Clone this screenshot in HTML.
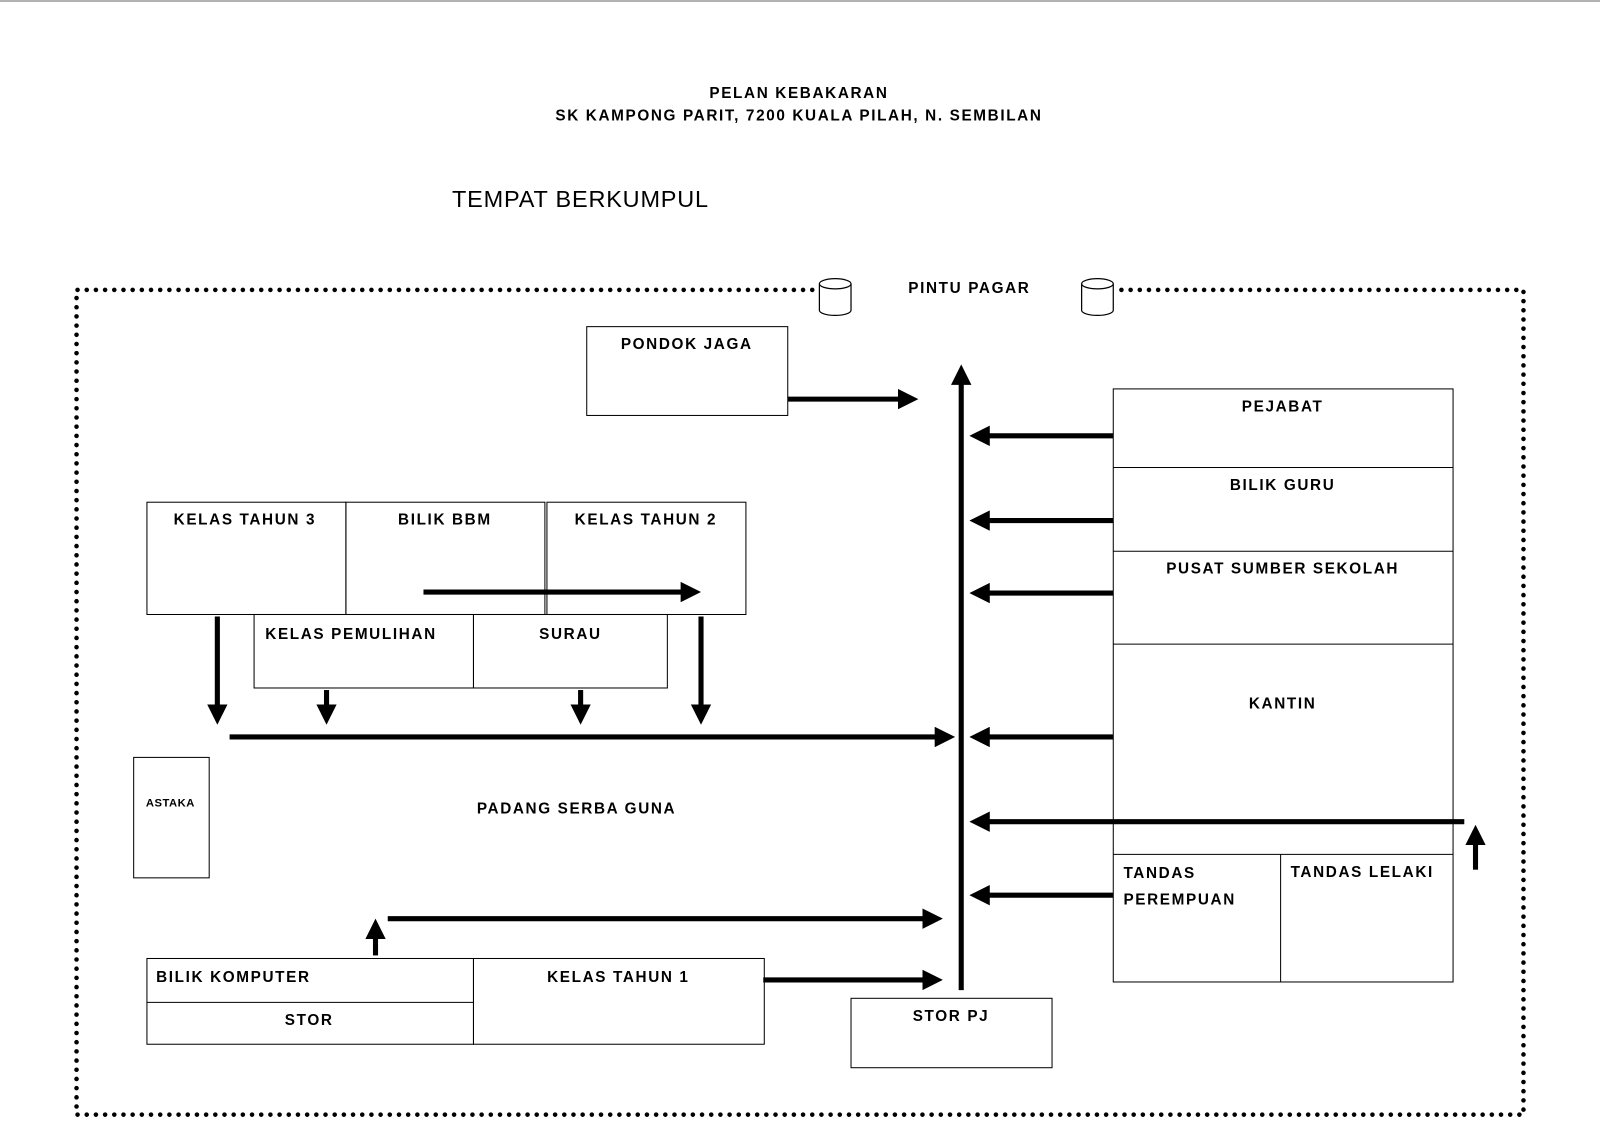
<!DOCTYPE html>
<html><head><meta charset="utf-8"><style>
html,body{margin:0;padding:0;background:#fff}
svg{display:block}
text{font-family:"Liberation Sans",Arial,sans-serif;font-weight:bold;fill:#000;letter-spacing:1.6px}
</style></head><body>
<svg width="1600" height="1131" viewBox="0 0 1568 1108" preserveAspectRatio="none" xmlns="http://www.w3.org/2000/svg">
<defs>
<marker id="ah" markerWidth="4" markerHeight="4" refX="1" refY="2" orient="auto" markerUnits="strokeWidth">
<path d="M0,0 L4,2 L0,4 z" fill="#000"/></marker>
</defs>
<line x1="0" y1="1" x2="1568" y2="1" stroke="#999" stroke-width="1.5"/>
<text x="783" y="96" font-size="15" text-anchor="middle">PELAN KEBAKARAN</text>
<text x="783" y="118" font-size="15" text-anchor="middle">SK KAMPONG PARIT, 7200 KUALA PILAH, N. SEMBILAN</text>
<text x="443" y="203" font-size="23" style="font-weight:normal;letter-spacing:0.8px">TEMPAT BERKUMPUL</text>
<g stroke="#000" stroke-width="4.5" stroke-linecap="round" stroke-dasharray="0 9" fill="none">
<path d="M805,284 L75,284 L75,1092 L1493,1092 L1493,284 L1093,284"/>
</g>
<g fill="#fff" stroke="#000" stroke-width="1.2">
<path d="M803,278 L803,304 A15.5,5 0 0 0 834,304 L834,278"/>
<ellipse cx="818.5" cy="278" rx="15.5" ry="5"/>
<path d="M1060,278 L1060,304 A15.5,5 0 0 0 1091,304 L1091,278"/>
<ellipse cx="1075.5" cy="278" rx="15.5" ry="5"/>
</g>
<text x="950" y="287" font-size="15" text-anchor="middle">PINTU PAGAR</text>
<g fill="none" stroke="#000" stroke-width="1">
<rect x="575" y="320" width="197" height="87"/>
<rect x="1091" y="381" width="333" height="581"/>
<line x1="1091" y1="458" x2="1424" y2="458"/>
<line x1="1091" y1="540" x2="1424" y2="540"/>
<line x1="1091" y1="631" x2="1424" y2="631"/>
<line x1="1091" y1="837" x2="1424" y2="837"/>
<line x1="1255" y1="837" x2="1255" y2="962"/>
<rect x="144" y="492" width="195" height="110"/>
<rect x="339" y="492" width="195" height="110"/>
<rect x="536" y="492" width="195" height="110"/>
<rect x="249" y="602" width="215" height="72"/>
<rect x="464" y="602" width="190" height="72"/>
<rect x="131" y="742" width="74" height="118"/>
<rect x="144" y="939" width="320" height="84"/>
<line x1="144" y1="982" x2="464" y2="982"/>
<rect x="464" y="939" width="285" height="84"/>
<rect x="834" y="978" width="197" height="68"/>
</g>
<g font-size="15" text-anchor="middle">
<text x="673" y="342">PONDOK JAGA</text>
<text x="1257" y="403">PEJABAT</text>
<text x="1257" y="480">BILIK GURU</text>
<text x="1257" y="562">PUSAT SUMBER SEKOLAH</text>
<text x="1257" y="694">KANTIN</text>
<text x="1335" y="859">TANDAS LELAKI</text>
<text x="240" y="514">KELAS TAHUN 3</text>
<text x="436" y="514">BILIK BBM</text>
<text x="633" y="514">KELAS TAHUN 2</text>
<text x="344" y="626">KELAS PEMULIHAN</text>
<text x="559" y="626">SURAU</text>
<text x="565" y="797">PADANG SERBA GUNA</text>
<text x="303" y="1004">STOR</text>
<text x="606" y="962">KELAS TAHUN 1</text>
<text x="932" y="1000">STOR PJ</text>
</g>
<g font-size="15">
<text x="1101" y="860">TANDAS</text>
<text x="1101" y="886">PEREMPUAN</text>
<text x="153" y="962">BILIK KOMPUTER</text>
</g>
<text x="167" y="790" font-size="11" text-anchor="middle" style="letter-spacing:0.5px">ASTAKA</text>
<g stroke="#000" stroke-width="5" marker-end="url(#ah)" fill="none">
<line x1="942" y1="970" x2="942" y2="372"/>
<line x1="772" y1="391" x2="885" y2="391"/>
<line x1="1091" y1="427" x2="965" y2="427"/>
<line x1="1091" y1="510" x2="965" y2="510"/>
<line x1="1091" y1="581" x2="965" y2="581"/>
<line x1="1091" y1="722" x2="965" y2="722"/>
<line x1="1435" y1="805" x2="965" y2="805"/>
<line x1="1091" y1="877" x2="965" y2="877"/>
<line x1="1446" y1="852" x2="1446" y2="823"/>
<line x1="415" y1="580" x2="672" y2="580"/>
<line x1="213" y1="604" x2="213" y2="695"/>
<line x1="320" y1="676" x2="320" y2="695"/>
<line x1="569" y1="676" x2="569" y2="695"/>
<line x1="687" y1="604" x2="687" y2="695"/>
<line x1="225" y1="722" x2="921" y2="722"/>
<line x1="368" y1="936" x2="368" y2="915"/>
<line x1="380" y1="900" x2="909" y2="900"/>
<line x1="748" y1="960" x2="909" y2="960"/>
</g>
</svg>
</body></html>
